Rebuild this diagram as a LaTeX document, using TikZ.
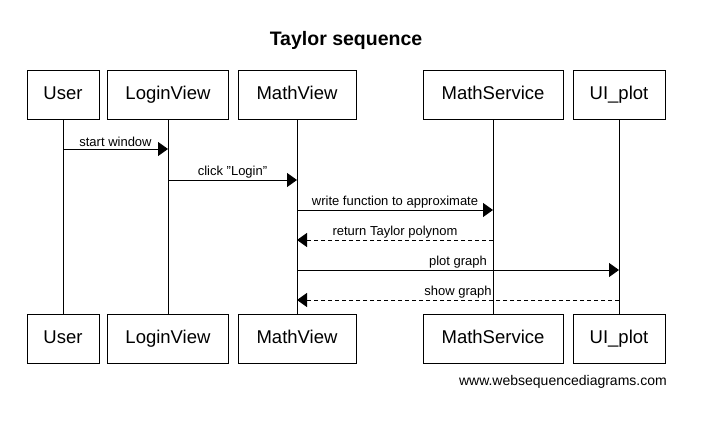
\documentclass[tikz,border=0pt]{standalone}
\usepackage{fontspec}
\setmainfont{Liberation Sans}
\usetikzlibrary{arrows.meta}
\begin{document}
\begin{tikzpicture}[x=1pt,y=-1pt,
  actor/.style={draw,line width=1pt,minimum height=49pt,inner sep=0pt,text height=13.5pt,text depth=4pt,font=\fontsize{18.5}{20}\selectfont},
  life/.style={line width=1pt},
  msg/.style={line width=1pt,-{Triangle[length=10pt,width=14pt]}},
  ret/.style={msg,dash pattern=on 4pt off 3pt},
  lbl/.style={font=\fontsize{13}{14}\selectfont,anchor=south,inner sep=1.5pt}]
\useasboundingbox (0,0) rectangle (702,421);
\node[font=\bfseries\fontsize{19.5}{22}\selectfont] (title) at (346,40) {Taylor sequence};
% top actors
\node[actor,minimum width=72pt] (userT) at (63,95) {User};
\node[actor,minimum width=121pt] (loginT) at (168,95) {LoginView};
\node[actor,minimum width=118pt] (mathT) at (297,95) {MathView};
\node[actor,minimum width=140pt] (servT) at (493,95) {MathService};
\node[actor,minimum width=92pt] (plotT) at (619,95) {UI\_plot};
% bottom actors
\node[actor,minimum width=72pt] (userB) at (63,338.5) {User};
\node[actor,minimum width=121pt] (loginB) at (168,338.5) {LoginView};
\node[actor,minimum width=118pt] (mathB) at (297,338.5) {MathView};
\node[actor,minimum width=140pt] (servB) at (493,338.5) {MathService};
\node[actor,minimum width=92pt] (plotB) at (619,338.5) {UI\_plot};
% lifelines
\draw[life] (userT) -- (userB);
\draw[life] (loginT) -- (loginB);
\draw[life] (mathT) -- (mathB);
\draw[life] (servT) -- (servB);
\draw[life] (plotT) -- (plotB);
% message end points
\coordinate (a1) at (63,149);  \coordinate (b1) at (168,149);
\coordinate (a2) at (168,180); \coordinate (b2) at (297,180);
\coordinate (a3) at (297,210); \coordinate (b3) at (493,210);
\coordinate (a4) at (493,240); \coordinate (b4) at (297,240);
\coordinate (a5) at (297,270); \coordinate (b5) at (619,270);
\coordinate (a6) at (619,300); \coordinate (b6) at (297,300);
\draw[msg] (a1) -- node[lbl] {start window} (b1);
\draw[msg] (a2) -- node[lbl] {click "Login"} (b2);
\draw[msg] (a3) -- node[lbl] {write function to approximate} (b3);
\draw[ret] (a4) -- node[lbl] {return Taylor polynom} (b4);
\draw[msg] (a5) -- node[lbl] {plot graph} (b5);
\draw[ret] (a6) -- node[lbl] {show graph} (b6);
\node[font=\fontsize{14}{16}\selectfont,anchor=east,inner sep=0pt] (foot) at (667,382) {www.websequencediagrams.com};
\end{tikzpicture}
\end{document}
